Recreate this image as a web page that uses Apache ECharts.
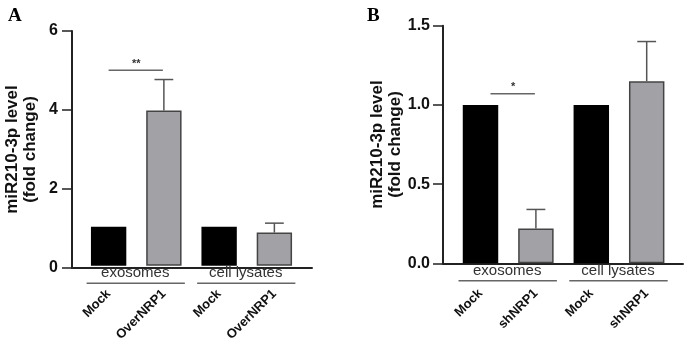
<!DOCTYPE html>
<html>
<head>
<meta charset="utf-8">
<script src="https://cdn.jsdelivr.net/npm/echarts@6/dist/echarts.min.js"></script>
<style>
html,body{margin:0;padding:0;background:#fff;}
#main{width:685px;height:344px;}
</style>
</head>
<body>
<div id="main"></div>
<script>
// panel A
var catsA = ['Mock', 'OverNRP1', 'Mock', 'OverNRP1'];
var meanA = [1, 3.97, 1, 0.85];
var errA = [0, 0.79, 0, 0.24];
var ticksA = [0, 2, 4, 6];
// panel B
var catsB = ['Mock', 'shNRP1', 'Mock', 'shNRP1'];
var meanB = [1, 0.22, 1, 1.15];
var errB = [0, 0.12, 0, 0.25];
var ticksB = [0, 0.5, 1.0, 1.5];

var groups = ['exosomes', 'cell lysates'];
var groupIdx = [[0, 1], [2, 3]];
var sigA = [0, 1, 5.0, '**'];
var sigB = [0, 1, 1.07, '*'];

var barColors = ['#000000', '#a2a2a6', '#000000', '#a2a2a6'];
var font = 'Liberation Sans';

var myChart = echarts.init(document.getElementById('main'));

function barData(vals){
	return vals.map(function(v, i){
		return {value: v, itemStyle: {color: barColors[i], borderColor: i % 2 ? '#444' : '#000', borderWidth: i % 2 ? 1.5 : 0}};
	});
}

function errData(mean, err){
	return mean.map(function(v, i){ return [i, v, err[i]]; });
}

//error bars: only upward, with cap
function renderErr(params, api){
	var e = api.value(2);
	if(!e) return null;
	var b = api.coord([api.value(0), api.value(1)]);
	var t = api.coord([api.value(0), api.value(1) + e]);
	var cap = api.size([1, 0])[0] * 0.17;
	var st = {stroke: '#555', lineWidth: 1.5};
	return {type: 'group', children: [
		{type: 'line', shape: {x1: b[0], y1: b[1], x2: t[0], y2: t[1]}, style: st},
		{type: 'line', shape: {x1: t[0] - cap, y1: t[1], x2: t[0] + cap, y2: t[1]}, style: st}
	]};
}

//group labels under the axis
function renderGroup(params, api){
	var g = groupIdx[params.dataIndex];
	var p0 = api.coord([g[0], 0]);
	var p1 = api.coord([g[1], 0]);
	var y = p0[1];
	return {type: 'group', children: [
		{type: 'line', shape: {x1: p0[0] - 22, y1: y + 17.5, x2: p1[0] + 21, y2: y + 17.5}, style: {stroke: '#666', lineWidth: 1.5}},
		{type: 'text', x: (p0[0] + p1[0]) / 2 - 1, y: y + 15, style: {text: groups[params.dataIndex], fill: '#333', font: '15px "' + font + '"', align: 'center', verticalAlign: 'bottom'}}
	]};
}

function makeSig(sig, shift){
	return function(params, api){
		var a = api.coord([sig[0], sig[2]]);
		var b = api.coord([sig[1], sig[2]]);
		return {type: 'group', children: [
			{type: 'line', shape: {x1: a[0] + shift, y1: a[1], x2: b[0] - 1, y2: b[1]}, style: {stroke: '#666', lineWidth: 1.5}},
			{type: 'text', x: (a[0] + shift + b[0]) / 2, y: a[1] - 1, style: {text: sig[3], fill: '#333', font: 'bold 11px "' + font + '"', align: 'center', verticalAlign: 'bottom'}}
		]};
	};
}

function frameY(max, step, margin, nameGap, fmt){
	return {
		type: 'value', min: 0, max: max, interval: step,
		name: 'miR210-3p level\n(fold change)', nameLocation: 'middle', nameGap: nameGap, nameRotate: 90,
		nameTextStyle: {fontFamily: font, fontWeight: 'bold', fontSize: 17, lineHeight: 18, color: '#111'},
		axisLine: {show: true, lineStyle: {color: '#222', width: 2}},
		axisTick: {show: true, length: 10, lineStyle: {color: '#222', width: 1.5}},
		axisLabel: {margin: margin, fontFamily: font, fontWeight: 'bold', fontSize: 16, color: '#111', formatter: fmt},
		splitLine: {show: false}
	};
}

function frameX(){
	return {type: 'value', min: 0, max: 1, axisLine: {show: true, onZero: false, lineStyle: {color: '#222', width: 2}},
		axisTick: {show: false}, axisLabel: {show: false}, splitLine: {show: false}};
}

function barX(cats, grid, margin){
	return {type: 'category', data: cats, gridIndex: grid,
		axisLine: {show: false}, axisTick: {show: false},
		axisLabel: {rotate: 45, margin: margin, interval: 0, fontFamily: font, fontWeight: 'bold', fontSize: 13, color: '#111'}};
}

function barY(max, grid){
	return {type: 'value', min: 0, max: max, gridIndex: grid, show: false};
}

var fmtA = function(v){ return String(v); };
var fmtB = function(v){ return v.toFixed(1); };

var option = {
	animation: false,
	title: [
		{text: 'A', left: 3, top: 2, textStyle: {fontFamily: 'Liberation Serif', fontWeight: 'bold', fontSize: 19, color: '#000'}},
		{text: 'B', left: 362, top: 2, textStyle: {fontFamily: 'Liberation Serif', fontWeight: 'bold', fontSize: 19, color: '#000'}}
	],
	grid: [
		{left: 72, width: 240, top: 31, height: 237},
		{left: 81, width: 221, top: 31, height: 237},
		{left: 443, width: 240, top: 25.7, height: 237.6},
		{left: 452.8, width: 221.6, top: 25.7, height: 237.6}
	],
	xAxis: [
		Object.assign(frameX(), {gridIndex: 0}),
		barX(catsA, 1, 26),
		Object.assign(frameX(), {gridIndex: 2}),
		barX(catsB, 3, 28)
	],
	yAxis: [
		Object.assign(frameY(ticksA[ticksA.length - 1], ticksA[1] - ticksA[0], 14, 33, fmtA), {gridIndex: 0}),
		barY(ticksA[ticksA.length - 1], 1),
		Object.assign(frameY(ticksB[ticksB.length - 1], ticksB[1] - ticksB[0], 13, 35, fmtB), {gridIndex: 2}),
		barY(ticksB[ticksB.length - 1], 3)
	],
	series: [
		{type: 'bar', xAxisIndex: 1, yAxisIndex: 1, barWidth: '64%', data: barData(meanA), z: 3},
		{type: 'custom', xAxisIndex: 1, yAxisIndex: 1, renderItem: renderErr, data: errData(meanA, errA), z: 2},
		{type: 'custom', xAxisIndex: 1, yAxisIndex: 1, renderItem: renderGroup, data: [0, 1]},
		{type: 'custom', xAxisIndex: 1, yAxisIndex: 1, renderItem: makeSig(sigA, 0), data: [0]},
		{type: 'bar', xAxisIndex: 3, yAxisIndex: 3, barWidth: '64%', data: barData(meanB), z: 3},
		{type: 'custom', xAxisIndex: 3, yAxisIndex: 3, renderItem: renderErr, data: errData(meanB, errB), z: 2},
		{type: 'custom', xAxisIndex: 3, yAxisIndex: 3, renderItem: renderGroup, data: [0, 1]},
		{type: 'custom', xAxisIndex: 3, yAxisIndex: 3, renderItem: makeSig(sigB, 10), data: [0]}
	]
};

myChart.setOption(option);
</script>
</body>
</html>
